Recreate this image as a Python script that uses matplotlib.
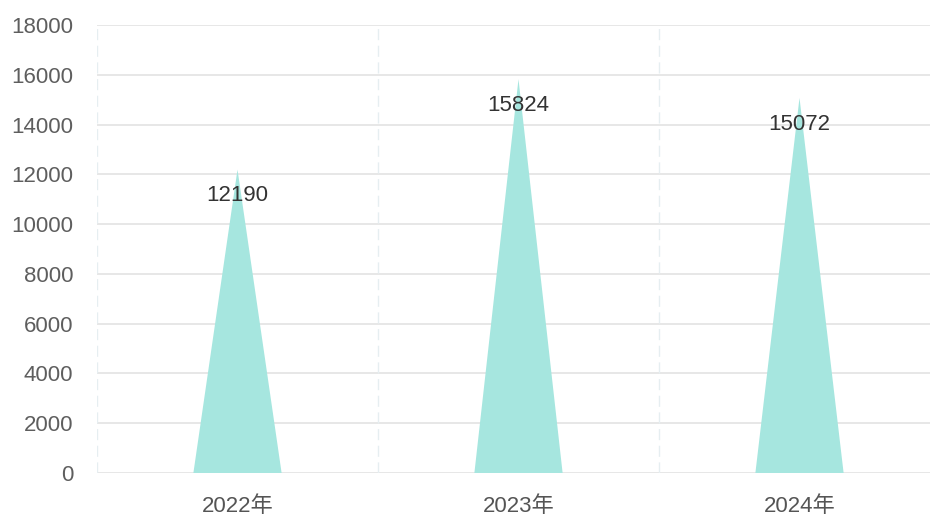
import matplotlib
matplotlib.use("Agg")
import matplotlib.pyplot as plt

categories = ["2022年", "2023年", "2024年"]
values = [12190, 15824, 15072]
yticks = [0, 2000, 4000, 6000, 8000, 10000, 12000, 14000, 16000, 18000]

plt.rcParams['font.family'] = ['Liberation Sans', 'Noto Sans CJK SC', 'DejaVu Sans']

W, H = 930, 519
fig = plt.figure(figsize=(W / 100, H / 100), dpi=100)
left, right, top, bottom = 97, 940, 25, 473
ax = fig.add_axes([left / W, (H - bottom) / H, (right - left) / W, (bottom - top) / H])

half = 0.157
for i, v in enumerate(values):
    ax.fill([i - half, i, i + half], [0, v, 0], color="#a6e6df", lw=0, zorder=3)
    ax.annotate(str(v), xy=(i, v), xytext=(0, -19), textcoords="offset points",
                ha="center", va="center", fontsize=16, color="#333333", zorder=4)

ax.set_xlim(-0.5, len(categories) - 0.5)
ax.set_ylim(0, 18000)
ax.set_yticks(yticks)
ax.set_yticklabels([str(t) for t in yticks])
ax.set_xticks(range(len(categories)))
ax.set_xticklabels(categories)

for y in yticks:
    ax.axhline(y, color="#e0e0e0", lw=1.1, zorder=1)
for xb in [-0.5 + k for k in range(len(categories) + 1)]:
    ax.axvline(xb, color="#e6eef1", lw=1, ls=(0, (8, 4)), zorder=1)

for s in ax.spines.values():
    s.set_visible(False)
ax.tick_params(axis="y", length=0, pad=17, labelsize=16, labelcolor="#5e5e5e")
ax.tick_params(axis="x", length=0, pad=16.5, labelsize=16, labelcolor="#555555")

fig.savefig("out.png", dpi=100)
